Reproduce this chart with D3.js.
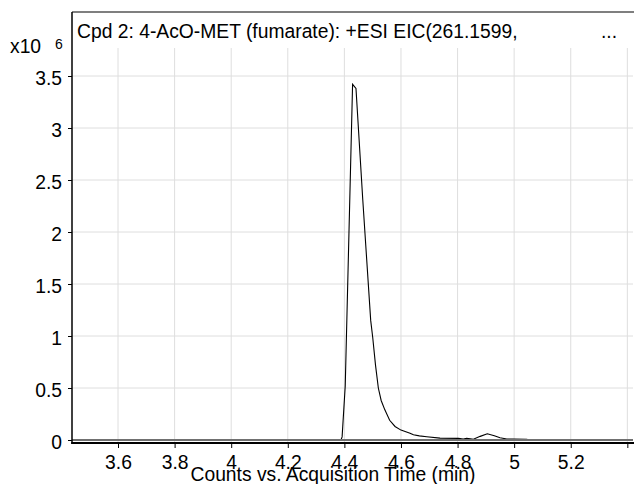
<!DOCTYPE html>
<html>
<head>
<meta charset="utf-8">
<script src="https://cdn.jsdelivr.net/npm/d3@7"></script>
<style>
  body { margin: 0; background: #fff; }
  svg text { font-family: "Liberation Sans", Arial, sans-serif; fill: #000; }
</style>
</head>
<body>
<svg id="chart" width="634" height="484"></svg>
<script>
const titleText = 'Cpd 2: 4-AcO-MET (fumarate): +ESI EIC(261.1599,';
const xLabelText = 'Counts vs. Acquisition Time (min)';

// trace (time in min, counts x10^6)
const times = [3.437, 4.388, 4.392, 4.403, 4.429, 4.441, 4.465, 4.493, 4.500, 4.510,
  4.520, 4.530, 4.543, 4.560, 4.579, 4.600, 4.632, 4.644, 4.665, 4.691, 4.738,
  4.803, 4.820, 4.832, 4.845, 4.856, 4.880, 4.905, 4.930, 4.950, 4.974, 4.997,
  5.044, 5.056, 5.420];
const counts = [0, 0, 0.03, 0.52, 3.42, 3.38, 2.31, 1.15, 0.99, 0.72,
  0.50, 0.38, 0.29, 0.19, 0.13, 0.095, 0.065, 0.05, 0.04, 0.032, 0.018,
  0.016, 0.01, 0.016, 0.012, 0.007, 0.035, 0.06, 0.04, 0.022, 0.01, 0.01,
  0.007, 0, 0];

const xTicks = [3.6, 3.8, 4.0, 4.2, 4.4, 4.6, 4.8, 5.0, 5.2, 5.4];
const xTickLabels = ['3.6', '3.8', '4', '4.2', '4.4', '4.6', '4.8', '5', '5.2', ''];
const yTicks = [0, 0.5, 1, 1.5, 2, 2.5, 3, 3.5];
const yTickLabels = ['0', '0.5', '1', '1.5', '2', '2.5', '3', '3.5'];

const svg = d3.select('#chart');

const plotLeft = 72, plotRight = 633, plotTop = 12, gridTop = 48, axisY = 443;
const fs = '19.3px';

const x = d3.scaleLinear().domain([3.4374, 5.420]).range([plotLeft, plotRight]);
const y = d3.scaleLinear().domain([0, 3.5]).range([440, 76]);

// grid
const grid = svg.append('g');
grid.selectAll('line.v').data(xTicks).enter().append('line')
  .attr('x1', d => x(d)).attr('x2', d => x(d))
  .attr('y1', gridTop).attr('y2', axisY)
  .attr('stroke', '#dedede').attr('stroke-width', 1);
grid.selectAll('line.h').data(yTicks.slice(1)).enter().append('line')
  .attr('x1', plotLeft).attr('x2', plotRight)
  .attr('y1', d => y(d)).attr('y2', d => y(d))
  .attr('stroke', '#dedede').attr('stroke-width', 1);

// trace
const pts = times.map((t, i) => [t, counts[i]]);
svg.append('path')
  .datum(pts)
  .attr('fill', 'none')
  .attr('stroke', '#000')
  .attr('stroke-width', 1.1)
  .attr('d', d3.line().x(d => x(d[0])).y(d => y(d[1])));

// zero line
svg.append('line')
  .attr('x1', plotLeft).attr('x2', plotRight)
  .attr('y1', y(0)).attr('y2', y(0))
  .attr('stroke', '#707070').attr('stroke-width', 2);

// axes
const yAxis = d3.axisLeft(y).tickValues(yTicks)
  .tickFormat((d, i) => yTickLabels[i]).tickSize(4).tickPadding(6);
const yAxisG = svg.append('g').attr('transform', `translate(${plotLeft},0)`).call(yAxis);
yAxisG.select('.domain').remove();
yAxisG.selectAll('text').style('font-size', fs)
  .attr('font-family', 'Liberation Sans, Arial, sans-serif').attr('dy', '0.43em');
yAxisG.selectAll('line').attr('stroke', '#000');

const xAxis = d3.axisBottom(x).tickValues(xTicks)
  .tickFormat((d, i) => xTickLabels[i]).tickSize(5).tickPadding(7);
const xAxisG = svg.append('g').attr('transform', `translate(0,${axisY})`).call(xAxis);
xAxisG.select('.domain').remove();
xAxisG.selectAll('text').style('font-size', fs)
  .attr('font-family', 'Liberation Sans, Arial, sans-serif');
xAxisG.selectAll('line').attr('stroke', '#000');

// frame
svg.append('line').attr('x1', plotLeft).attr('x2', plotLeft).attr('y1', plotTop).attr('y2', axisY + 1)
  .attr('stroke', '#000').attr('stroke-width', 1.5);
svg.append('line').attr('x1', plotLeft).attr('x2', plotRight + 1).attr('y1', plotTop).attr('y2', plotTop)
  .attr('stroke', '#000').attr('stroke-width', 1.2);
svg.append('line').attr('x1', plotLeft - 0.75).attr('x2', plotRight + 1).attr('y1', axisY).attr('y2', axisY)
  .attr('stroke', '#000').attr('stroke-width', 2);

// title
svg.append('text').attr('x', 77).attr('y', 38).style('font-size', fs).text(titleText);
svg.append('text').attr('x', 601).attr('y', 38).style('font-size', fs).text('...');

// scale multiplier
svg.append('text').attr('x', 10).attr('y', 53).style('font-size', fs).text('x10');
svg.append('text').attr('x', 55).attr('y', 49).style('font-size', '14px').text('6');

// x label
svg.append('text').attr('x', 333).attr('y', 481).attr('text-anchor', 'middle')
  .style('font-size', fs).text(xLabelText);
</script>
</body>
</html>
